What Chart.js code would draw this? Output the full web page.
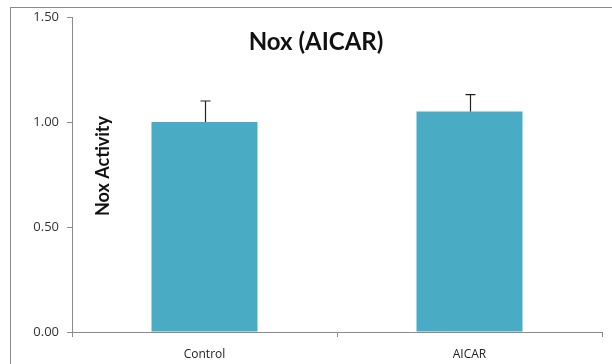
<!DOCTYPE html>
<html>
<head>
<meta charset="utf-8">
<script src="https://cdn.jsdelivr.net/npm/chart.js@4"></script>
<style>
  html, body { margin: 0; padding: 0; background: #fff; }
  #wrap { width: 612px; height: 364px; }
</style>
</head>
<body>
<div id="wrap"><canvas id="chart" width="612" height="364"></canvas></div>
<script>
// values
const groups = ["Control", "AICAR"];
const means = [1.00, 1.05];
const errors = [0.10, 0.08];
const yTicks = [0, 0.5, 1.0, 1.5];

const chartTitle = "Nox (AICAR)";
const yTitle = "Nox Activity";

// frame, title, y title, error bars
const extras = {
    id: "extras",
    afterDatasetsDraw(chart) {
        const ctx = chart.ctx;
        const x = chart.scales.x;
        const y = chart.scales.y;
        ctx.save();
        ctx.strokeStyle = "#222";
        ctx.lineWidth = 1.2;
        means.forEach(function (m, i) {
            const px = Math.round(x.getPixelForValue(i)) + 0.5;
            const top = y.getPixelForValue(m + errors[i]);
            const base = y.getPixelForValue(m);
            ctx.beginPath();
            ctx.moveTo(px, base);
            ctx.lineTo(px, top);
            ctx.moveTo(px - 5, top);
            ctx.lineTo(px + 5, top);
            ctx.stroke();
        });
        ctx.restore();
    },
    afterDraw(chart) {
        const ctx = chart.ctx;
        ctx.save();
        ctx.strokeStyle = "#8a8a8a";
        ctx.lineWidth = 1;
        ctx.strokeRect(10.5, 7.5, 800, 600);

        ctx.fillStyle = "#111";
        ctx.textAlign = "center";
        ctx.textBaseline = "middle";
        ctx.font = "bold 24px Lato, 'Open Sans', sans-serif";
        ctx.fillText(chartTitle, 316, 42);

        ctx.translate(103, 166);
        ctx.rotate(-Math.PI / 2);
        ctx.font = "bold 18px Lato, 'Open Sans', sans-serif";
        ctx.fillText(yTitle, 0, 0);
        ctx.restore();
    }
};

new Chart(document.getElementById("chart").getContext("2d"), {
    type: "bar",
    data: {
        labels: groups,
        datasets: [{
            data: means,
            backgroundColor: "#4aabc5",
            borderWidth: 0,
            categoryPercentage: 1.0,
            barPercentage: 0.4
        }]
    },
    options: {
        responsive: false,
        animation: false,
        layout: { padding: { top: 17, right: 10, left: 0, bottom: 0 } },
        plugins: {
            legend: { display: false },
            tooltip: { enabled: false }
        },
        scales: {
            x: {
                afterFit(scale) { scale.height = 32; },
                grid: {
                    offset: true,
                    drawOnChartArea: false,
                    drawTicks: true,
                    tickLength: 5,
                    color: "#8a8a8a"
                },
                border: { display: true, color: "#8a8a8a", width: 1 },
                ticks: {
                    color: "#222",
                    padding: 10,
                    font: { family: "'Open Sans', sans-serif", size: 12 }
                }
            },
            y: {
                min: 0,
                max: 1.5,
                afterFit(scale) { scale.width = 72; },
                afterBuildTicks(scale) {
                    scale.ticks = yTicks.map(function (v) { return { value: v }; });
                },
                grid: {
                    drawOnChartArea: false,
                    drawTicks: true,
                    tickLength: 5,
                    color: "#8a8a8a"
                },
                border: { display: true, color: "#8a8a8a", width: 1 },
                ticks: {
                    color: "#333",
                    padding: 8,
                    font: { family: "'Open Sans', sans-serif", size: 13 },
                    callback: function (v) { return Number(v).toFixed(2); }
                }
            }
        }
    },
    plugins: [extras]
});
</script>
</body>
</html>
